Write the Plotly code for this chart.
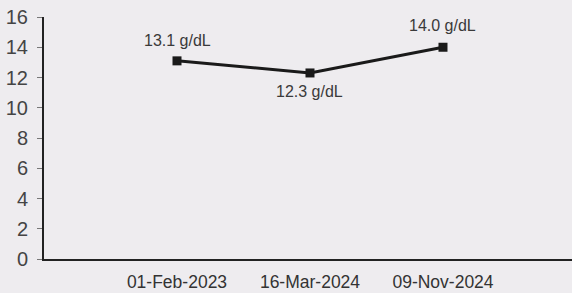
import plotly.graph_objects as go

dates = ["01-Feb-2023", "16-Mar-2024", "09-Nov-2024"]
values = [13.1, 12.3, 14.0]
labels = ["13.1 g/dL", "12.3 g/dL", "14.0 g/dL"]
label_shift = [20.5, -18.5, 21.5]
y_ticks = [0, 2, 4, 6, 8, 10, 12, 14, 16]

FONT = "Liberation Sans, Arial"
BG = "#eeecef"

fig = go.Figure()
fig.add_trace(go.Scatter(
    x=dates, y=values, mode="lines+markers",
    line=dict(color="#1a1a1a", width=3),
    marker=dict(symbol="square", size=9, color="#1a1a1a"),
    showlegend=False,
))
for d, v, t, s in zip(dates, values, labels, label_shift):
    fig.add_annotation(x=d, y=v, text=t, showarrow=False, yshift=s,
                       font=dict(family=FONT, size=16, color="#3a3a3a"))

fig.update_layout(
    width=572, height=293,
    margin=dict(l=44, r=0, t=17, b=34),
    paper_bgcolor=BG, plot_bgcolor=BG,
    font=dict(family=FONT, color="#333333"),
)
fig.update_xaxes(
    type="category", range=[-1, 2.97], automargin=False,
    showline=True, linecolor="#222222", linewidth=2,
    showgrid=False, zeroline=False, ticks="", ticklabelstandoff=6,
    tickfont=dict(size=17.5, color="#333333"),
)
fig.update_yaxes(
    range=[0, 16], tickvals=y_ticks, automargin=False,
    showline=True, linecolor="#222222", linewidth=2,
    showgrid=False, zeroline=False, ticks="outside", ticklen=5, tickcolor="#777777",
    ticklabelstandoff=5, ticklabeloverflow="allow",
    tickfont=dict(size=20, color="#444444"),
)
fig.write_html(
    "out.html",
    config={"displayModeBar": False},
    post_script=f"document.body.style.margin='0';document.body.style.background='{BG}';"
                "document.body.style.overflow='hidden';",
)
